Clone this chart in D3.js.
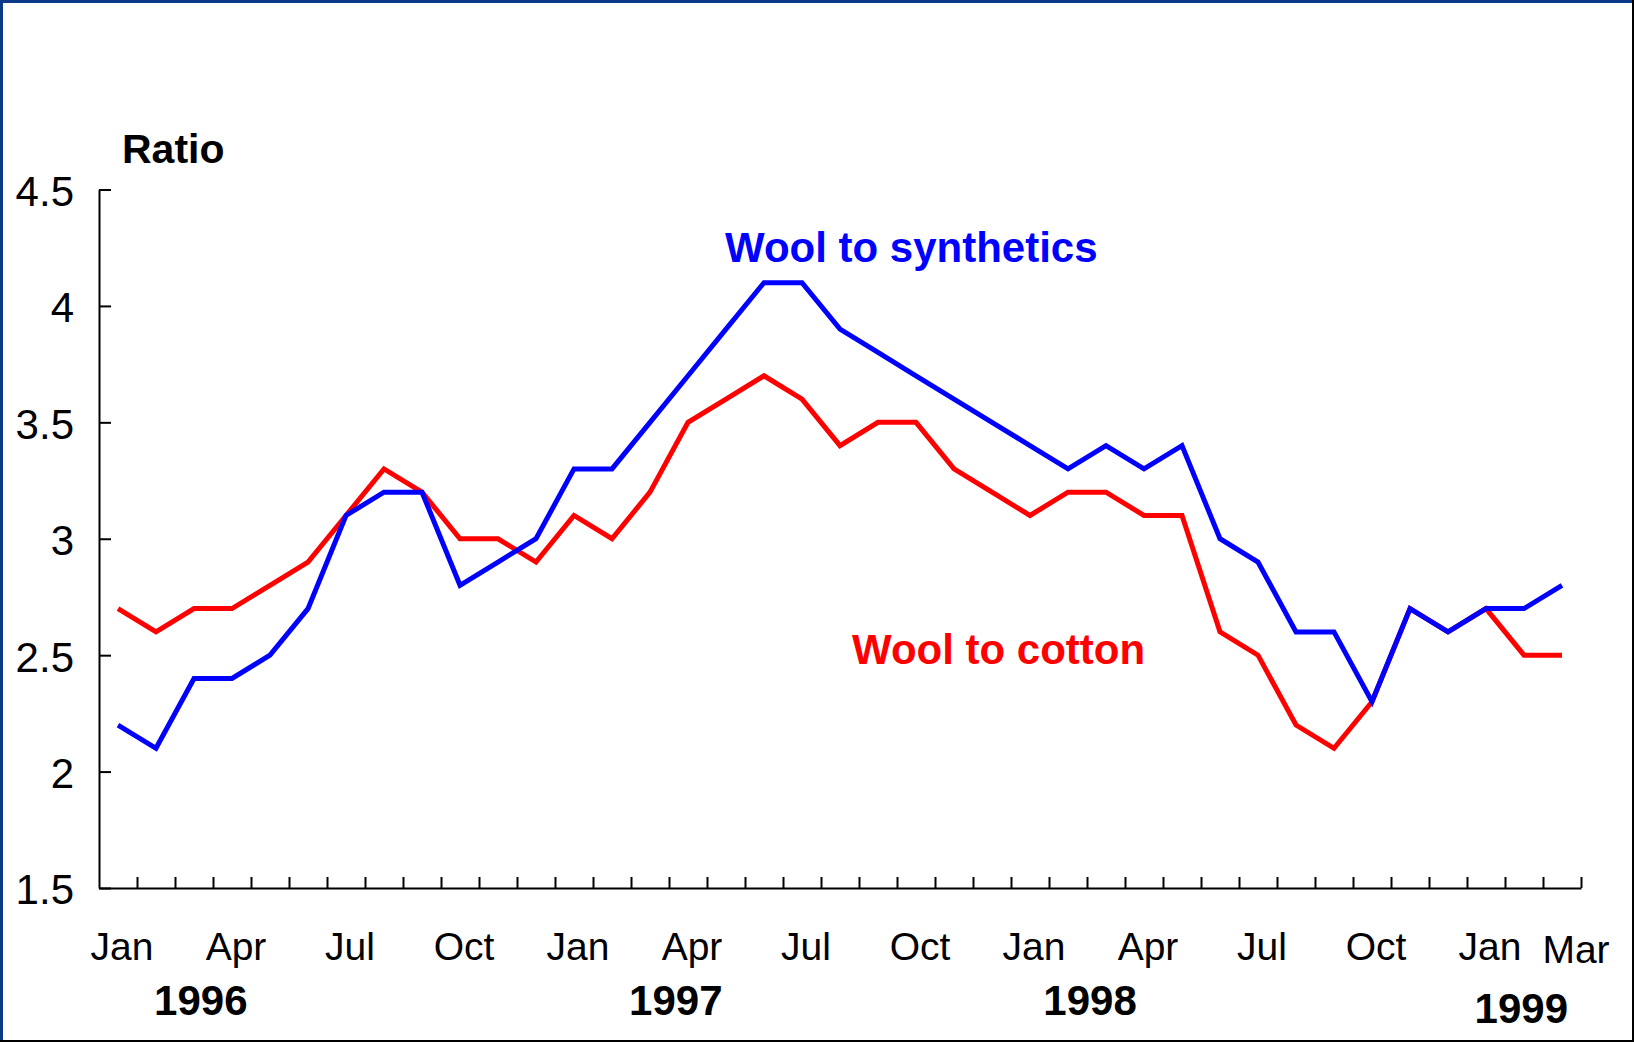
<!DOCTYPE html>
<html>
<head>
<meta charset="utf-8">
<script src="https://cdn.jsdelivr.net/npm/d3@7"></script>
<style>
  html, body { margin: 0; padding: 0; background: #fff; }
  svg { display: block; font-family: Arial, "Liberation Sans", Helvetica, sans-serif; }
</style>
</head>
<body>
<svg id="chart" width="1634" height="1042"></svg>
<script>
// ---- data ----
const categories = [
  "Jan 1996","Feb 1996","Mar 1996","Apr 1996","May 1996","Jun 1996","Jul 1996","Aug 1996","Sep 1996","Oct 1996","Nov 1996","Dec 1996",
  "Jan 1997","Feb 1997","Mar 1997","Apr 1997","May 1997","Jun 1997","Jul 1997","Aug 1997","Sep 1997","Oct 1997","Nov 1997","Dec 1997",
  "Jan 1998","Feb 1998","Mar 1998","Apr 1998","May 1998","Jun 1998","Jul 1998","Aug 1998","Sep 1998","Oct 1998","Nov 1998","Dec 1998",
  "Jan 1999","Feb 1999","Mar 1999"
];
const woolToSynthetics = [
  2.2, 2.1, 2.4, 2.4, 2.5, 2.7, 3.1, 3.2, 3.2, 2.8, 2.9, 3.0,
  3.3, 3.3, 3.5, 3.7, 3.9, 4.1, 4.1, 3.9, 3.8, 3.7, 3.6, 3.5,
  3.4, 3.3, 3.4, 3.3, 3.4, 3.0, 2.9, 2.6, 2.6, 2.3, 2.7, 2.6,
  2.7, 2.7, 2.8
];
const woolToCotton = [
  2.7, 2.6, 2.7, 2.7, 2.8, 2.9, 3.1, 3.3, 3.2, 3.0, 3.0, 2.9,
  3.1, 3.0, 3.2, 3.5, 3.6, 3.7, 3.6, 3.4, 3.5, 3.5, 3.3, 3.2,
  3.1, 3.2, 3.2, 3.1, 3.1, 2.6, 2.5, 2.2, 2.1, 2.3, 2.7, 2.6,
  2.7, 2.5, 2.5
];
const yTickValues = [1.5, 2, 2.5, 3, 3.5, 4, 4.5];
const yTickLabels = ["1.5", "2", "2.5", "3", "3.5", "4", "4.5"];
const monthLabelCategories = ["Jan 1996","Apr 1996","Jul 1996","Oct 1996","Jan 1997","Apr 1997","Jul 1997","Oct 1997","Jan 1998","Apr 1998","Jul 1998","Oct 1998","Jan 1999","Mar 1999"];
const monthLabelTexts = ["Jan","Apr","Jul","Oct","Jan","Apr","Jul","Oct","Jan","Apr","Jul","Oct","Jan","Mar"];
const yearLabels = ["1996", "1997", "1998", "1999"];
const seriesNames = ["Wool to synthetics", "Wool to cotton"];
const axisTitle = "Ratio";

// ---- layout ----
const W = 1634, H = 1042;
const plot = { left: 99, right: 1581, top: 189.5, bottom: 888 };
const svg = d3.select("#chart");

// border
svg.append("rect").attr("x", 0).attr("y", 0).attr("width", W).attr("height", H).attr("fill", "#fff");
svg.append("line").attr("x1", 0).attr("y1", 1.5).attr("x2", W).attr("y2", 1.5).attr("stroke", "#0b3a86").attr("stroke-width", 3);
svg.append("line").attr("x1", 1.5).attr("y1", 0).attr("x2", 1.5).attr("y2", H).attr("stroke", "#0b3a86").attr("stroke-width", 3);
svg.append("line").attr("x1", W - 1).attr("y1", 0).attr("x2", W - 1).attr("y2", H).attr("stroke", "#000").attr("stroke-width", 2);
svg.append("line").attr("x1", 0).attr("y1", H - 1).attr("x2", W).attr("y2", H - 1).attr("stroke", "#000").attr("stroke-width", 2);

// scales
const x = d3.scaleBand().domain(categories).range([plot.left, plot.right]).paddingInner(0).paddingOuter(0);
const xBoundary = d3.scaleLinear().domain([0, categories.length]).range([plot.left, plot.right]);
const y = d3.scaleLinear().domain([1.5, 4.5]).range([plot.bottom, plot.top]);
const cx = c => x(c) + x.bandwidth() / 2;

// y axis
const yAxis = d3.axisLeft(y)
  .tickValues(yTickValues)
  .tickFormat((d, i) => yTickLabels[i])
  .tickSizeInner(-12)
  .tickSizeOuter(0)
  .tickPadding(25);
const gy = svg.append("g").attr("transform", `translate(${plot.left},0)`).call(yAxis);
gy.select(".domain").attr("stroke", "#000").attr("stroke-width", 2);
gy.selectAll(".tick line").attr("stroke", "#000").attr("stroke-width", 2);
gy.selectAll(".tick text").attr("font-size", 42).attr("fill", "#000")
  .attr("font-family", 'Arial, "Liberation Sans", sans-serif').attr("dy", "0.38em");

// x axis (ticks at month boundaries)
const xAxis = d3.axisBottom(xBoundary)
  .tickValues(d3.range(1, categories.length + 1))
  .tickFormat("")
  .tickSizeInner(-11)
  .tickSizeOuter(0);
const gx = svg.append("g").attr("transform", `translate(0,${plot.bottom})`).call(xAxis);
gx.select(".domain").attr("stroke", "#000").attr("stroke-width", 2);
gx.selectAll(".tick line").attr("stroke", "#000").attr("stroke-width", 2);

// month labels
svg.append("g").selectAll("text")
  .data(monthLabelCategories)
  .join("text")
  .attr("x", (c, i) => cx(c) + (i === monthLabelCategories.length - 1 ? 14 : 4))
  .attr("y", (c, i) => i === monthLabelCategories.length - 1 ? 963 : 960)
  .attr("text-anchor", "middle")
  .attr("font-size", 39)
  .attr("fill", "#000")
  .text((c, i) => monthLabelTexts[i]);

// year labels (anchored at fractional month positions)
const yearAnchors = [2.68, 15.18, 26.08, 37.43];
svg.append("g").selectAll("text")
  .data(yearLabels)
  .join("text")
  .attr("x", (d, i) => xBoundary(yearAnchors[i]))
  .attr("y", (d, i) => i === 3 ? 1023 : 1015)
  .attr("text-anchor", "middle")
  .attr("font-size", 42)
  .attr("font-weight", "bold")
  .attr("fill", "#000")
  .text(d => d);

// axis title
svg.append("text").attr("x", 122).attr("y", 163)
  .attr("font-size", 41).attr("font-weight", "bold").attr("fill", "#000").text(axisTitle);

// lines
const line = d3.line().x((d, i) => cx(categories[i])).y(d => y(d));
svg.append("path").datum(woolToCotton)
  .attr("d", line).attr("fill", "none").attr("stroke", "#ff0000").attr("stroke-width", 5)
  .attr("stroke-linejoin", "miter");
svg.append("path").datum(woolToSynthetics)
  .attr("d", line).attr("fill", "none").attr("stroke", "#0000ff").attr("stroke-width", 5)
  .attr("stroke-linejoin", "miter");

// series labels
svg.append("text").attr("x", 725).attr("y", 262)
  .attr("font-size", 42).attr("font-weight", "bold").attr("fill", "#0000ff").text(seriesNames[0]);
svg.append("text").attr("x", 852).attr("y", 664)
  .attr("font-size", 42).attr("font-weight", "bold").attr("fill", "#ff0000").text(seriesNames[1]);
</script>
</body>
</html>
